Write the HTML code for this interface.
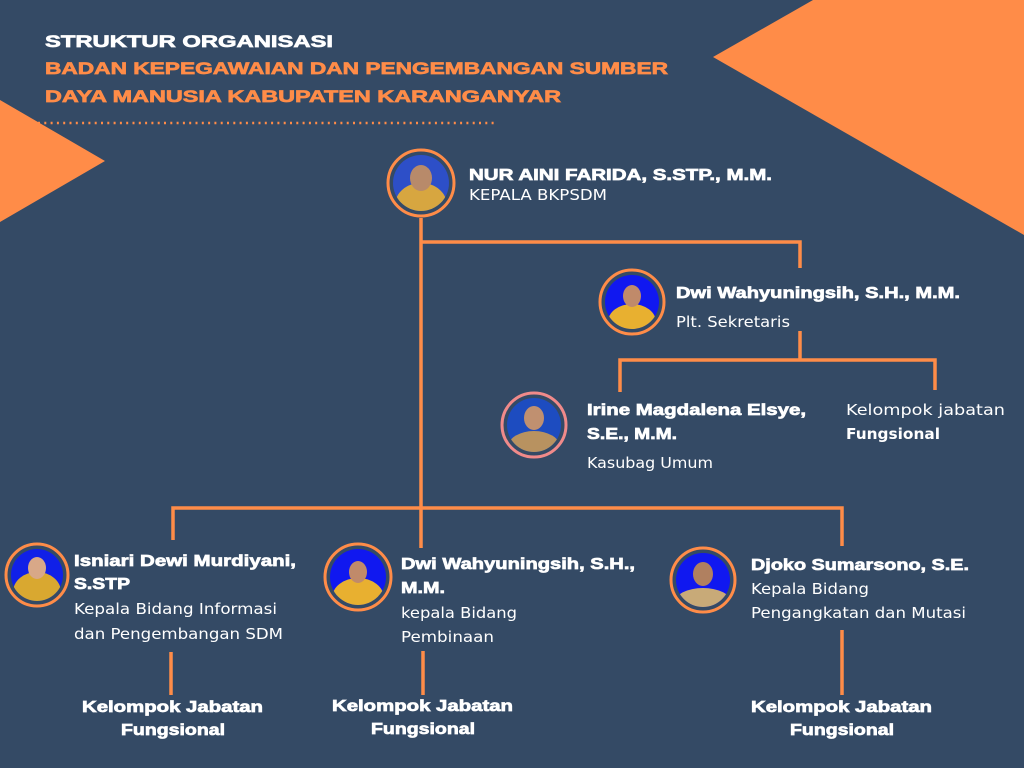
<!DOCTYPE html>
<html><head><meta charset="utf-8"><style>
html,body{margin:0;padding:0;background:#344a65;}
svg{display:block}
.b{font-family:"Liberation Sans",sans-serif;font-weight:bold;fill:#fff;stroke:#fff;stroke-width:0.7}
.r{font-family:"DejaVu Sans","Liberation Sans",sans-serif;fill:#fff;font-size:15px}
</style></head><body>
<svg width="1024" height="768" viewBox="0 0 1024 768" xmlns="http://www.w3.org/2000/svg">
<rect width="1024" height="768" fill="#344a65"/>
<polygon points="713,57 813,0 1024,0 1024,235" fill="#ff8c48"/>
<polygon points="0,100 105,161 0,222" fill="#ff8c48"/>
<line x1="38" y1="123" x2="497" y2="123" stroke="#ff8c48" stroke-width="2.5" stroke-dasharray="2 4.3"/>
<g stroke="#ff8c48" stroke-width="3.5" fill="none">
<polyline points="421,218 421,548"/>
<polyline points="421,242 800,242 800,268"/>
<polyline points="800,331 800,360"/>
<polyline points="620,392 620,360 935,360 935,390"/>
<polyline points="173,540 173,508 842,508 842,546"/>
<line x1="171" y1="652" x2="171" y2="695"/>
<line x1="423" y1="651" x2="423" y2="695"/>
<line x1="842" y1="630" x2="842" y2="695"/>
</g>
<defs>
<clipPath id="c1"><circle cx="421" cy="183" r="28"/></clipPath>
<clipPath id="c2"><circle cx="632" cy="302" r="27"/></clipPath>
<clipPath id="c3"><circle cx="534" cy="425" r="27"/></clipPath>
<clipPath id="c4"><circle cx="37" cy="575" r="26"/></clipPath>
<clipPath id="c5"><circle cx="358" cy="577" r="28"/></clipPath>
<clipPath id="c6"><circle cx="703" cy="580" r="27"/></clipPath>
</defs>
<g>
<circle cx="421" cy="183" r="33" fill="#344a65" stroke="#ff8c48" stroke-width="3"/>
<g clip-path="url(#c1)"><rect x="390" y="150" width="64" height="64" fill="#2d4fc8"/><ellipse cx="421" cy="205" rx="26" ry="22" fill="#d7a640"/><ellipse cx="421" cy="178" rx="11" ry="13" fill="#b88a6a"/></g>
<circle cx="632" cy="302" r="32" fill="#344a65" stroke="#ff8c48" stroke-width="3"/>
<g clip-path="url(#c2)"><rect x="600" y="270" width="64" height="64" fill="#1018f0"/><ellipse cx="632" cy="322" rx="24" ry="18" fill="#e8b030"/><ellipse cx="632" cy="296" rx="9" ry="11" fill="#c08a6a"/></g>
<circle cx="534" cy="425" r="32" fill="#344a65" stroke="#f08a8a" stroke-width="3"/>
<g clip-path="url(#c3)"><rect x="500" y="395" width="64" height="64" fill="#1d4cc0"/><ellipse cx="534" cy="447" rx="26" ry="16" fill="#b89260"/><ellipse cx="534" cy="418" rx="10" ry="12" fill="#c09070"/></g>
<circle cx="37" cy="575" r="31" fill="#344a65" stroke="#ff8c48" stroke-width="3"/>
<g clip-path="url(#c4)"><rect x="5" y="545" width="64" height="64" fill="#1020e8"/><ellipse cx="37" cy="592" rx="24" ry="20" fill="#d9a830"/><ellipse cx="37" cy="568" rx="9" ry="11" fill="#d8a888"/></g>
<circle cx="358" cy="577" r="33" fill="#344a65" stroke="#ff8c48" stroke-width="3"/>
<g clip-path="url(#c5)"><rect x="325" y="545" width="66" height="66" fill="#1018f0"/><ellipse cx="358" cy="598" rx="26" ry="20" fill="#e8b030"/><ellipse cx="358" cy="572" rx="9" ry="11" fill="#c08a6a"/></g>
<circle cx="703" cy="580" r="32" fill="#344a65" stroke="#ff8c48" stroke-width="3"/>
<g clip-path="url(#c6)"><rect x="670" y="548" width="66" height="66" fill="#1018f0"/><ellipse cx="703" cy="602" rx="28" ry="14" fill="#c8aa78"/><ellipse cx="703" cy="574" rx="10" ry="12" fill="#b08060"/></g>
</g>
<g class="b">
<text x="45" y="47" font-size="17" textLength="288" lengthAdjust="spacingAndGlyphs">STRUKTUR ORGANISASI</text>
<text x="45" y="74" font-size="17" style="fill:#ff8c48;stroke:#ff8c48" textLength="623" lengthAdjust="spacingAndGlyphs">BADAN KEPEGAWAIAN DAN PENGEMBANGAN SUMBER</text>
<text x="45" y="102" font-size="17" style="fill:#ff8c48;stroke:#ff8c48" textLength="516" lengthAdjust="spacingAndGlyphs">DAYA MANUSIA KABUPATEN KARANGANYAR</text>
<text x="469" y="180" font-size="16" textLength="303" lengthAdjust="spacingAndGlyphs">NUR AINI FARIDA, S.STP., M.M.</text>
<text x="676" y="298" font-size="16" textLength="284" lengthAdjust="spacingAndGlyphs">Dwi Wahyuningsih, S.H., M.M.</text>
<text x="587" y="415" font-size="16" textLength="219" lengthAdjust="spacingAndGlyphs">Irine Magdalena Elsye,</text>
<text x="587" y="439" font-size="16" textLength="90" lengthAdjust="spacingAndGlyphs">S.E., M.M.</text>
<text x="74" y="566" font-size="16" textLength="222" lengthAdjust="spacingAndGlyphs">Isniari Dewi Murdiyani,</text>
<text x="74" y="589" font-size="16" textLength="56" lengthAdjust="spacingAndGlyphs">S.STP</text>
<text x="401" y="569" font-size="16" textLength="234" lengthAdjust="spacingAndGlyphs">Dwi Wahyuningsih, S.H.,</text>
<text x="401" y="593" font-size="16" textLength="44" lengthAdjust="spacingAndGlyphs">M.M.</text>
<text x="751" y="570" font-size="16" textLength="218" lengthAdjust="spacingAndGlyphs">Djoko Sumarsono, S.E.</text>
<text x="82" y="712" font-size="16" textLength="181" lengthAdjust="spacingAndGlyphs">Kelompok Jabatan</text>
<text x="121" y="735" font-size="16" textLength="104" lengthAdjust="spacingAndGlyphs">Fungsional</text>
<text x="332" y="711" font-size="16" textLength="181" lengthAdjust="spacingAndGlyphs">Kelompok Jabatan</text>
<text x="371" y="734" font-size="16" textLength="104" lengthAdjust="spacingAndGlyphs">Fungsional</text>
<text x="751" y="712" font-size="16" textLength="181" lengthAdjust="spacingAndGlyphs">Kelompok Jabatan</text>
<text x="790" y="735" font-size="16" textLength="104" lengthAdjust="spacingAndGlyphs">Fungsional</text>
</g>
<g class="r">
<text x="469" y="200" textLength="138" lengthAdjust="spacingAndGlyphs">KEPALA BKPSDM</text>
<text x="676" y="327" textLength="114" lengthAdjust="spacingAndGlyphs">Plt. Sekretaris</text>
<text x="587" y="468" textLength="126" lengthAdjust="spacingAndGlyphs">Kasubag Umum</text>
<text x="846" y="415" textLength="159" lengthAdjust="spacingAndGlyphs">Kelompok jabatan</text>
<text x="846" y="439" font-weight="bold" textLength="94" lengthAdjust="spacingAndGlyphs">Fungsional</text>
<text x="74" y="614" textLength="203" lengthAdjust="spacingAndGlyphs">Kepala Bidang Informasi</text>
<text x="74" y="639" textLength="209" lengthAdjust="spacingAndGlyphs">dan Pengembangan SDM</text>
<text x="401" y="618" textLength="116" lengthAdjust="spacingAndGlyphs">kepala Bidang</text>
<text x="401" y="642" textLength="93" lengthAdjust="spacingAndGlyphs">Pembinaan</text>
<text x="751" y="594" textLength="118" lengthAdjust="spacingAndGlyphs">Kepala Bidang</text>
<text x="751" y="618" textLength="215" lengthAdjust="spacingAndGlyphs">Pengangkatan dan Mutasi</text>
</g>
</svg>
</body></html>
